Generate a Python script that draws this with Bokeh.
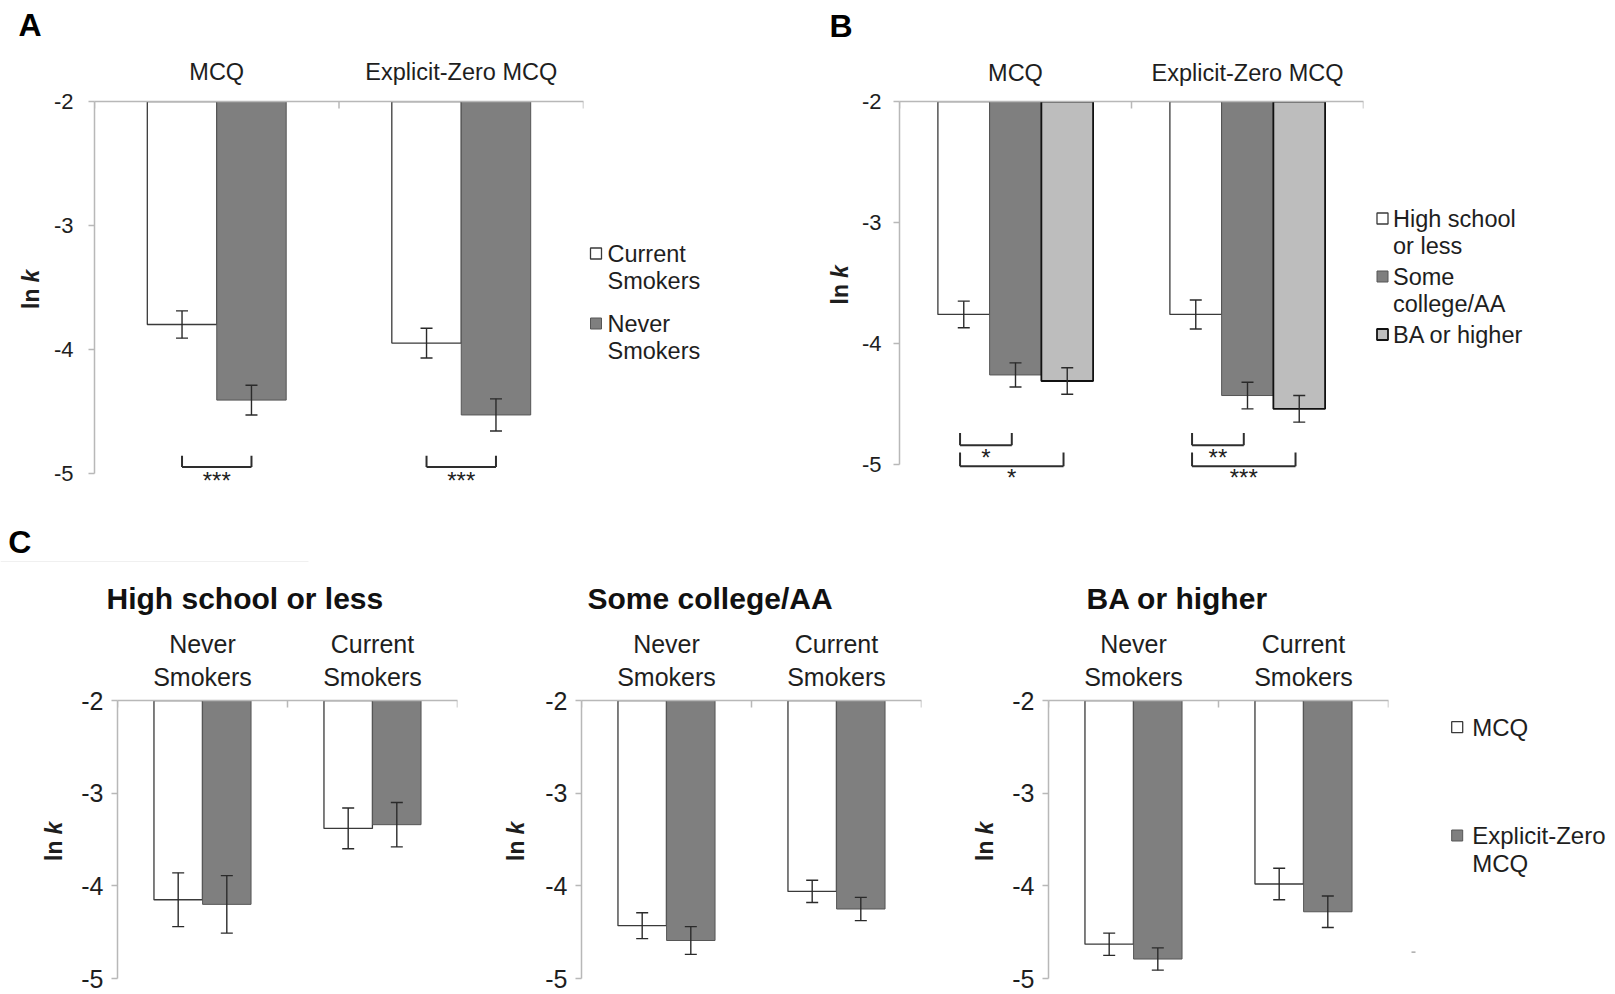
import math
from bokeh.plotting import figure
from bokeh.models import (ColumnDataSource, FactorRange, Range1d, FixedTicker,
                          PrintfTickFormatter, Whisker, TeeHead)
from bokeh.layouts import row, column
from bokeh.transform import dodge
from bokeh.core.properties import value
from bokeh.embed import file_html
from bokeh.resources import INLINE

# ---------------- data ----------------
Y_TICKS = [-5, -4, -3, -2]

# Panel A
a_tasks = ["MCQ", "Explicit-Zero MCQ"]
a_current = [-3.80, -3.95]
a_current_se = [0.11, 0.12]
a_never = [-4.41, -4.53]
a_never_se = [0.12, 0.13]
a_sig = ["***", "***"]
a_legend = ["Current\nSmokers", "Never\nSmokers"]

# Panel B
b_tasks = ["MCQ", "Explicit-Zero MCQ"]
b_hs = [-3.76, -3.76]
b_hs_se = [0.11, 0.12]
b_some = [-4.26, -4.43]
b_some_se = [0.10, 0.11]
b_ba = [-4.31, -4.54]
b_ba_se = [0.11, 0.11]
b_sig_hs_some = ["*", "**"]
b_sig_hs_ba = ["*", "***"]
b_legend = ["High school\nor less", "Some\ncollege/AA", "BA or higher"]

# Panel C
c_groups = ["Never\nSmokers", "Current\nSmokers"]
c_titles = ["High school or less", "Some college/AA", "BA or higher"]
c_hs_mcq = [-4.15, -3.38]
c_hs_mcq_se = [0.29, 0.22]
c_hs_ez = [-4.20, -3.34]
c_hs_ez_se = [0.31, 0.24]
c_some_mcq = [-4.43, -4.06]
c_some_mcq_se = [0.14, 0.12]
c_some_ez = [-4.59, -4.25]
c_some_ez_se = [0.15, 0.125]
c_ba_mcq = [-4.63, -3.98]
c_ba_mcq_se = [0.12, 0.17]
c_ba_ez = [-4.79, -4.28]
c_ba_ez_se = [0.12, 0.17]
c_legend = ["MCQ", "Explicit-Zero\nMCQ"]
y_label = ("ln", "k")
panel_letters = ["A", "B", "C"]

# ---------------- style ----------------
FONT = "Liberation Sans"
TXT = "#1e1e1e"
AXIS = "#b8b8b8"
ERR = "#2a2a2a"
WHITE_STYLE = dict(fill_color="#ffffff", line_color="#3a3a3a", line_width=1.3)
GRAY_STYLE = dict(fill_color="#7f7f7f", line_color="#565656", line_width=1.0)
HATCH_STYLE = dict(fill_color="#bdbdbd", hatch_pattern="checker", hatch_color="#8a8a8a",
                   hatch_scale=3, hatch_alpha=0.6, line_color="#111111", line_width=1.8)


def base_panel(cats, width, height, left, right, top, bottom, ppu,
               tick_fs, cat_fs, tick_standoff, cat_standoff):
    frame_h = height - top - bottom
    y_lo = -2 - frame_h / ppu
    p = figure(x_range=FactorRange(factors=cats), y_range=Range1d(y_lo, -2),
               width=width, height=height, x_axis_location="above",
               toolbar_location=None, output_backend="svg",
               min_border_left=left, min_border_right=right,
               min_border_top=top, min_border_bottom=bottom,
               outline_line_color=None, background_fill_color="white",
               border_fill_color="white")
    p.grid.visible = False
    xa = p.xaxis[0]
    xa.axis_line_color = AXIS
    xa.axis_line_width = 1.5
    xa.major_tick_line_color = None
    xa.major_tick_out = 0
    xa.major_tick_in = 0
    xa.major_label_text_font = FONT
    xa.major_label_text_font_size = cat_fs
    xa.major_label_text_color = TXT
    xa.major_label_text_line_height = 1.15
    xa.major_label_standoff = cat_standoff
    xa.major_label_orientation = "horizontal"
    ya = p.yaxis[0]
    ya.ticker = FixedTicker(ticks=Y_TICKS)
    ya.formatter = PrintfTickFormatter(format="%d")
    ya.bounds = (-5, -2)
    ya.axis_line_color = AXIS
    ya.axis_line_width = 1.5
    ya.major_tick_line_color = AXIS
    ya.major_tick_line_width = 1.5
    ya.major_tick_out = 6
    ya.major_tick_in = 0
    ya.minor_tick_line_color = None
    ya.major_label_text_font = FONT
    ya.major_label_text_font_size = tick_fs
    ya.major_label_text_color = TXT
    ya.major_label_standoff = tick_standoff
    edges = list(range(len(cats) + 1))
    p.segment(x0=edges, x1=edges, y0=-2, y1=-2 - 7 / ppu,
              line_color=AXIS, line_width=1.5)
    return p


def add_bars(p, cats, vals, ses, offset, width, style):
    src = ColumnDataSource(dict(cat=cats, val=vals,
                                lo=[v - s for v, s in zip(vals, ses)],
                                hi=[v + s for v, s in zip(vals, ses)]))
    p.vbar(x=dodge("cat", offset, range=p.x_range), top=-2, bottom="val",
           width=width, source=src, **style)
    w = Whisker(source=src, base=dodge("cat", offset, range=p.x_range),
                upper="hi", lower="lo", line_color=ERR, line_width=1.4,
                upper_head=TeeHead(size=12, line_color=ERR, line_width=1.4),
                lower_head=TeeHead(size=12, line_color=ERR, line_width=1.4),
                level="annotation")
    p.add_layout(w)


def add_bracket(p, cats, xa, xb, y_bar, y_tip, labels, y_lab, fs):
    src = ColumnDataSource(dict(cat=cats, lab=labels))
    kw = dict(source=src, line_color="#2e2e2e", line_width=2)
    p.segment(x0=dodge("cat", xa, range=p.x_range), x1=dodge("cat", xb, range=p.x_range),
              y0=y_bar, y1=y_bar, **kw)
    p.segment(x0=dodge("cat", xa, range=p.x_range), x1=dodge("cat", xa, range=p.x_range),
              y0=y_bar, y1=y_tip, **kw)
    p.segment(x0=dodge("cat", xb, range=p.x_range), x1=dodge("cat", xb, range=p.x_range),
              y0=y_bar, y1=y_tip, **kw)
    p.text(x=dodge("cat", (xa + xb) / 2, range=p.x_range), y=y_lab, text="lab", source=src,
           text_font=value(FONT), text_font_size=value(fs), text_color=TXT,
           text_align="center", text_baseline="middle")


def text_fig(width, height, top=0, bottom=0):
    """Blank figure whose data coordinates equal pixels (y downward)."""
    f = figure(width=width, height=height, x_range=Range1d(0, width),
               y_range=Range1d(height - bottom, top), toolbar_location=None,
               output_backend="svg", min_border_left=0, min_border_right=0,
               min_border_top=top, min_border_bottom=bottom,
               x_axis_location=None, y_axis_location=None, outline_line_color=None)
    f.grid.visible = False
    return f


def add_lnk(f, x, y):
    f.text(x=[x], y=[y + 1], text=[y_label[0]], angle=math.pi / 2, text_align="right",
           text_baseline="middle", text_font=value(FONT), text_font_style="bold",
           text_font_size=value("23px"), text_color=TXT)
    f.text(x=[x], y=[y - 5], text=[y_label[1]], angle=math.pi / 2, text_align="left",
           text_baseline="middle", text_font=value(FONT), text_font_style="bold italic",
           text_font_size=value("23px"), text_color=TXT)


def add_legend(f, entries, sw_x, tx_x, fs, lh, sw=11):
    for label, y, style in entries:
        f.rect(x=[sw_x], y=[y], width=sw, height=sw, **style)
        lines = label.split("\n")
        f.text(x=[tx_x] * len(lines), y=[y + i * lh for i in range(len(lines))],
               text=lines, text_font=value(FONT), text_font_size=value(fs),
               text_baseline="middle", text_align="left", text_color=TXT)


W = 1615
# ---------------- Row 1 (A, B) ----------------
H1, T1, B1 = 455, 56, 3
head1 = text_fig(W, 45)
head1.text(x=[18, 829], y=[24, 25], text=panel_letters[:2], text_font=value(FONT),
           text_font_style="bold", text_font_size=value("32px"), text_color="#000000",
           text_baseline="middle")

lnkA = text_fig(50, H1, T1, B1)
add_lnk(lnkA, 30.6, 242)
pA = base_panel(a_tasks, 535, H1, 42, 2, T1, B1, 123.9, "22px", "23.5px", 15, 17)
add_bars(pA, a_tasks, a_current, a_current_se, -0.142, 0.284, WHITE_STYLE)
add_bars(pA, a_tasks, a_never, a_never_se, 0.142, 0.284, GRAY_STYLE)
add_bracket(pA, a_tasks, -0.142, 0.142, -4.95, -4.86, a_sig, -5.06, "24px")
legA = text_fig(215, H1, T1, B1)
add_legend(legA, [(a_legend[0], 208, WHITE_STYLE), (a_legend[1], 278, GRAY_STYLE)],
           10.5, 22, "23.5px", 27)

lnkB = text_fig(58, H1, T1, B1)
add_lnk(lnkB, 39, 237.5)
pB = base_panel(b_tasks, 506, H1, 41, 1, T1, B1, 121.0, "22px", "23.5px", 12, 16)
bw = 0.223
add_bars(pB, b_tasks, b_hs, b_hs_se, -bw, bw, WHITE_STYLE)
add_bars(pB, b_tasks, b_some, b_some_se, 0.0, bw, GRAY_STYLE)
add_bars(pB, b_tasks, b_ba, b_ba_se, bw, bw, HATCH_STYLE)
sh = -0.016
add_bracket(pB, b_tasks, -bw + sh, 0.0 + sh, -4.84, -4.74, b_sig_hs_some, -4.94, "24px")
add_bracket(pB, b_tasks, -bw + sh, bw + sh, -5.015, -4.90, b_sig_hs_ba, -5.105, "24px")
legB = text_fig(251, H1, T1, B1)
add_legend(legB, [(b_legend[0], 173, WHITE_STYLE), (b_legend[1], 231, GRAY_STYLE),
                  (b_legend[2], 289, HATCH_STYLE)], 18, 28.5, "23.5px", 27)

# ---------------- Row 2 (C) ----------------
HH2 = 115
head2 = text_fig(W, HH2)
head2.text(x=[7.7], y=[41], text=[panel_letters[2]], text_font=value(FONT),
           text_font_style="bold", text_font_size=value("32px"), text_color="#000000",
           text_baseline="middle")
head2.text(x=[106, 587, 1086], y=[98, 98, 98], text=c_titles, text_font=value(FONT),
           text_font_style="bold", text_font_size=value("30px"), text_color="#111111",
           text_baseline="middle", text_align="left")
head2.segment(x0=[0], x1=[308], y0=[61], y1=[61], line_color="#f0f0f0", line_width=1)

H2, T2, B2 = 994 - 500 - HH2, 85, 16
c_series = [(c_hs_mcq, c_hs_mcq_se, c_hs_ez, c_hs_ez_se),
            (c_some_mcq, c_some_mcq_se, c_some_ez, c_some_ez_se),
            (c_ba_mcq, c_ba_mcq_se, c_ba_ez, c_ba_ez_se)]
# (lnk width, lnk x, plot width, plot left border, plot right border)
c_geom = [(72, 53.6, 398, 45, 13), (63, 45, 402, 48, 14), (67, 49.5, 388, 46, 2)]
row2_children = []
for (m, ms, e, es), (lw, lx, pw, pl, pr) in zip(c_series, c_geom):
    lk = text_fig(lw, H2, T2, B2)
    add_lnk(lk, lx, T2 + (H2 - T2 - B2) / 2)
    p = base_panel(c_groups, pw, H2, pl, pr, T2, B2, (H2 - T2 - B2) / 3.0,
                   "25px", "25px", 8, 10)
    add_bars(p, c_groups, m, ms, -0.143, 0.285, WHITE_STYLE)
    add_bars(p, c_groups, e, es, 0.143, 0.285, GRAY_STYLE)
    row2_children += [lk, p]

legC = text_fig(225, H2, T2, B2)
add_legend(legC, [(c_legend[0], 111.7, WHITE_STYLE), (c_legend[1], 220, GRAY_STYLE)],
           66.7, 81.7, "24px", 28.3)
legC.segment(x0=[21], x1=[25], y0=[336.7], y1=[336.7], line_color="#9a9a9a", line_width=1.2)
row2_children.append(legC)

layout = column(head1, row(lnkA, pA, legA, lnkB, pB, legB),
                head2, row(*row2_children))
open("out.html", "w").write(file_html(layout, INLINE))
